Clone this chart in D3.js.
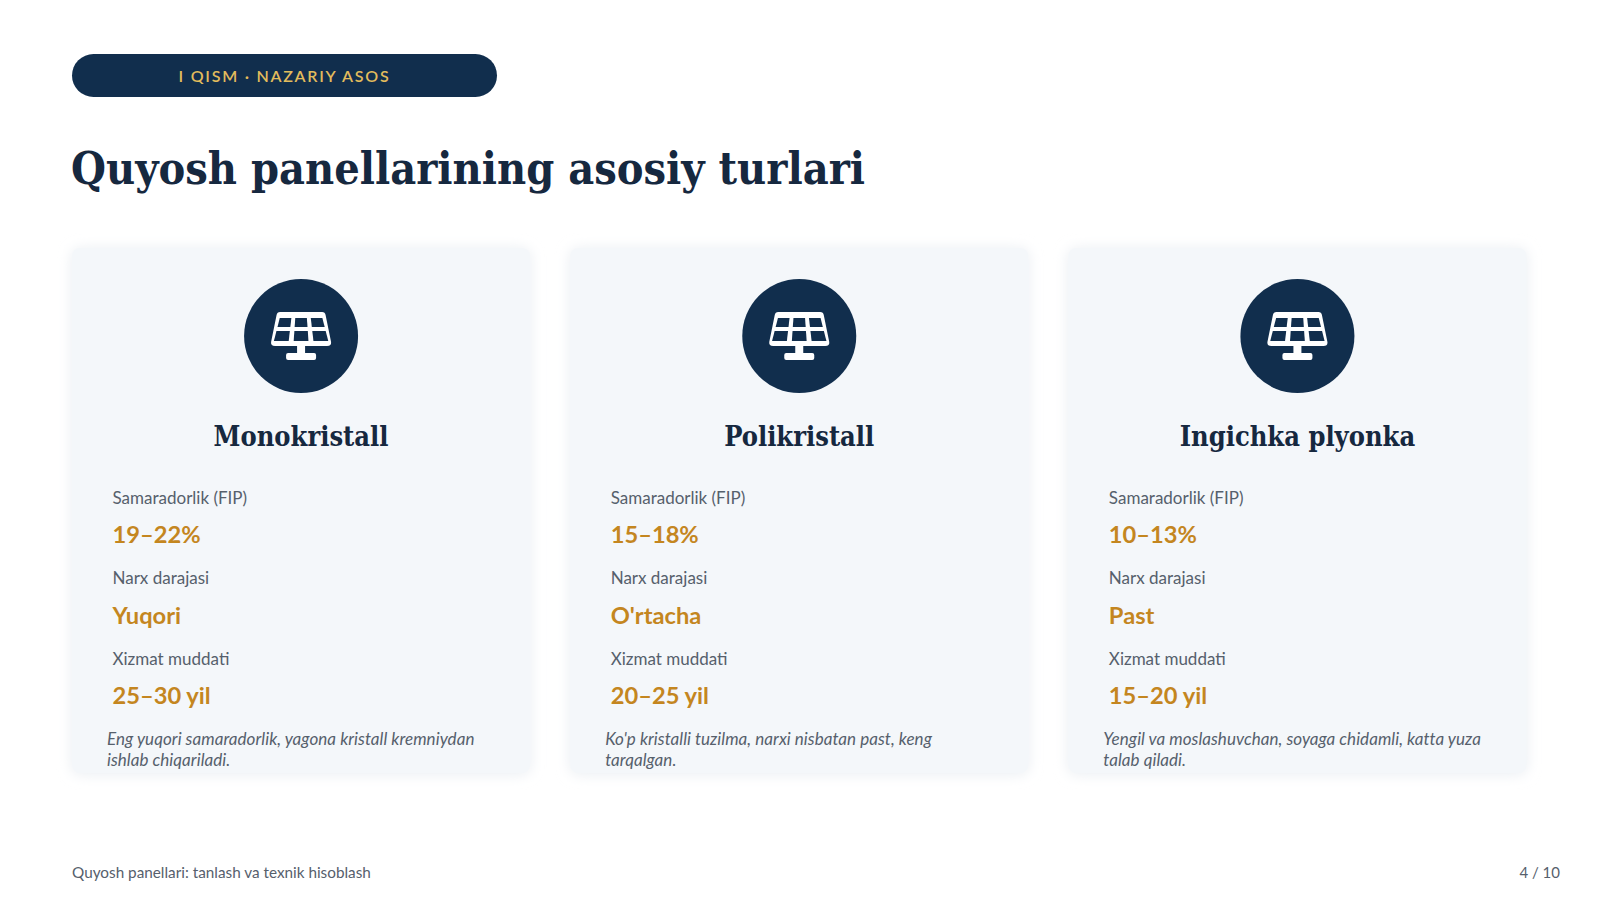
<!DOCTYPE html>
<html>
<head>
<meta charset="utf-8">
<script src="https://cdn.jsdelivr.net/npm/d3@7"></script>
<style>
  html, body { margin: 0; padding: 0; background: #fff; }
  svg { display: block; }
</style>
</head>
<body>
<svg id="slide"></svg>
<script>
const panelTypes = ['Monokristall', 'Polikristall', 'Ingichka plyonka'];
const efficiency = ['19–22%', '15–18%', '10–13%'];
const priceLevel = ['Yuqori', "O'rtacha", 'Past'];
const lifetime = ['25–30 yil', '20–25 yil', '15–20 yil'];
const notes = [
  ['Eng yuqori samaradorlik, yagona kristall kremniydan', 'ishlab chiqariladi.'],
  ["Ko'p kristalli tuzilma, narxi nisbatan past, keng", 'tarqalgan.'],
  ['Yengil va moslashuvchan, soyaga chidamli, katta yuza', 'talab qiladi.']
];
const rowLabels = ['Samaradorlik (FIP)', 'Narx darajasi', 'Xizmat muddati'];

const width = 1600, height = 899;
const navy = '#112e4d', ink = '#16283f', gold = '#c4861f', grey = '#56606c';
const sans = 'Lato, "Open Sans", sans-serif';
const serif = '"DejaVu Serif Condensed", "DejaVu Serif", serif';

const svg = d3.select('#slide').attr('width', width).attr('height', height)
  .attr('viewBox', `0 0 ${width} ${height}`);

const defs = svg.append('defs');
const blur = defs.append('filter').attr('id', 'soft')
  .attr('x', '-10%').attr('y', '-10%').attr('width', '120%').attr('height', '120%');
blur.append('feGaussianBlur').attr('stdDeviation', 7);

// header
svg.append('rect')
  .attr('x', 72).attr('y', 54).attr('width', 425).attr('height', 43).attr('rx', 21.5)
  .attr('fill', navy);
svg.append('text')
  .attr('x', 284.5).attr('y', 82)
  .attr('text-anchor', 'middle')
  .style('font', `600 16px ${sans}`)
  .style('letter-spacing', '1.75px')
  .attr('fill', '#e3bc5c')
  .text('I QISM · NAZARIY ASOS');
svg.append('text')
  .attr('x', 71).attr('y', 184)
  .style('font', `700 44.6px ${serif}`)
  .attr('fill', ink)
  .text('Quyosh panellarining asosiy turlari');

// cards
const xCard = d3.scaleBand()
  .domain(d3.range(panelTypes.length))
  .range([72, 1526.5])
  .paddingInner(40 / 498);
const cardTop = 248, cardHeight = 525;
const yRow = d3.scaleLinear().domain([0, 1, 2]).range([0, 80.5, 161]);

const cards = svg.selectAll('g.card')
  .data(panelTypes)
  .enter()
  .append('g')
    .attr('class', 'card')
    .attr('transform', (d, i) => `translate(${xCard(i)},${cardTop})`);

cards.append('rect')
  .attr('width', xCard.bandwidth()).attr('height', cardHeight).attr('rx', 8)
  .attr('y', 1)
  .attr('fill', '#e9edf2').attr('filter', 'url(#soft)');
cards.append('rect')
  .attr('width', xCard.bandwidth()).attr('height', cardHeight).attr('rx', 8)
  .attr('fill', '#f4f7fa');

const cx = xCard.bandwidth() / 2;
const icon = cards.append('g').attr('transform', `translate(${cx},88)`);
icon.append('circle').attr('r', 57).attr('fill', navy);
// panel frame, white with navy cells punched out
icon.append('path')
  .attr('d', 'M-21,-24 H21 Q24,-24 24.5,-21 L30,6 Q30.5,10 26,10 H4 V17 H13 Q15,17 15,19 V22 Q15,24 13,24 H-13 Q-15,24 -15,22 V19 Q-15,17 -13,17 H-4 V10 H-26 Q-30.5,10 -30,6 L-24.5,-21 Q-24,-24 -21,-24 Z')
  .attr('fill', '#fff');
const cellXs = [-1, 0, 1], cellRows = [[-18, -9], [-5, 5]];
cellRows.forEach(([y0, y1]) => {
  cellXs.forEach(c => {
    const k0 = 1 + (y0 + 18) * 0.012, k1 = 1 + (y1 + 18) * 0.012;
    const xi = (u, k) => (c * 15.5 + u) * k;
    icon.append('path')
      .attr('d', `M${xi(-5.8, k0)},${y0} L${xi(5.8, k0)},${y0} L${xi(5.8, k1)},${y1} L${xi(-5.8, k1)},${y1} Z`)
      .attr('fill', navy);
  });
});

cards.append('text')
  .attr('x', cx).attr('y', 198)
  .attr('text-anchor', 'middle')
  .style('font', `700 27px ${serif}`)
  .attr('fill', ink)
  .text(d => d);

const rowValues = [efficiency, priceLevel, lifetime];
rowLabels.forEach((label, r) => {
  cards.append('text')
    .attr('x', 40.5).attr('y', 255.5 + yRow(r))
    .style('font', `400 17px ${sans}`)
    .attr('fill', grey)
    .text(label);
  cards.append('text')
    .attr('x', 40.5).attr('y', 295 + yRow(r))
    .style('font', `700 23.7px ${sans}`)
    .attr('fill', gold)
    .text((d, i) => rowValues[r][i]);
});

const noteText = cards.append('text')
  .style('font', `italic 400 17px ${sans}`)
  .style('letter-spacing', '0.05px')
  .attr('fill', grey);
noteText.selectAll('tspan')
  .data((d, i) => notes[i])
  .enter()
  .append('tspan')
    .attr('x', 35)
    .attr('y', (d, i) => 497 + i * 21)
    .text(d => d);

// footer
svg.append('text')
  .attr('x', 72).attr('y', 878)
  .style('font', `400 15.3px ${sans}`)
  .attr('fill', grey)
  .text('Quyosh panellari: tanlash va texnik hisoblash');
svg.append('text')
  .attr('x', 1560).attr('y', 878)
  .attr('text-anchor', 'end')
  .style('font', `400 15px ${sans}`)
  .attr('fill', grey)
  .text('4 / 10');
</script>
</body>
</html>
